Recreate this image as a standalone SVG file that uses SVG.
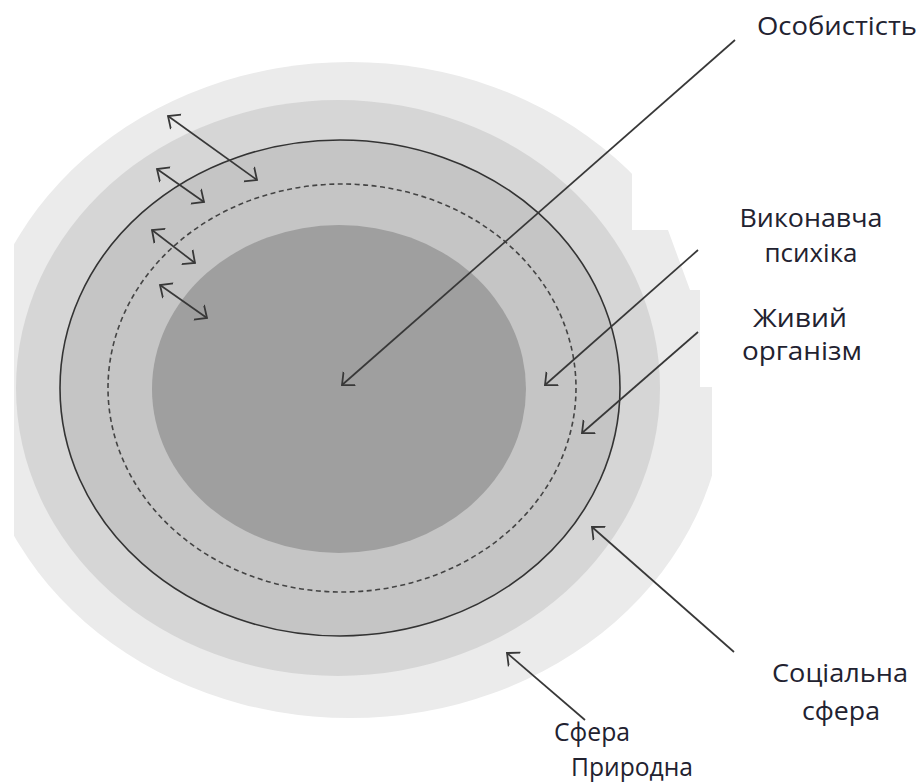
<svg xmlns="http://www.w3.org/2000/svg" width="924" height="783" viewBox="0 0 924 783">
  <defs>
    <style>
      .lbl { font-family: "Open Sans", "Noto Sans", "Liberation Sans", sans-serif; font-size: 25px; fill: #222230; text-anchor: middle; }
      .conn { fill: none; stroke: #383838; stroke-width: 1.7; }
      .twoway { marker-start: url(#head); marker-end: url(#head); }
      .oneway { marker-end: url(#head); }
    </style>
    <marker id="head" viewBox="0 0 12 20" refX="10" refY="10" markerWidth="12" markerHeight="20" markerUnits="userSpaceOnUse" orient="auto-start-reverse">
      <path d="M0,1 L10,10 L0,19" fill="none" stroke="#383838" stroke-width="1.8"/>
    </marker>
    <!-- the outer band is trimmed on the left and stepped on the upper right -->
    <clipPath id="outerClip">
      <polygon points="14,0 632,0 632,230 668,230 690,290 700,290 700,387 712,387 712,783 14,783"/>
    </clipPath>
  </defs>

  <rect width="924" height="783" fill="#ffffff"/>

  <g id="nature-sphere">
    <ellipse cx="350" cy="390" rx="375" ry="328" fill="#ebebeb" clip-path="url(#outerClip)"/>
  </g>
  <g id="social-sphere">
    <ellipse cx="338" cy="388" rx="322" ry="288" fill="#d6d6d6"/>
  </g>
  <g id="living-organism">
    <ellipse cx="340" cy="388" rx="280" ry="248" fill="#c5c5c5" stroke="#333333" stroke-width="1.6"/>
  </g>
  <g id="executive-psyche">
    <ellipse cx="342" cy="388" rx="234" ry="204" fill="none" stroke="#444444" stroke-width="1.6" stroke-dasharray="5 3.5"/>
  </g>
  <g id="personality">
    <ellipse cx="339" cy="389" rx="187" ry="164" fill="#9f9f9f"/>
  </g>

  <g id="connectors">
    <line class="conn twoway" x1="168" y1="116" x2="257" y2="180"/>
    <line class="conn twoway" x1="157" y1="169" x2="204" y2="202"/>
    <line class="conn twoway" x1="152" y1="230" x2="195" y2="263"/>
    <line class="conn twoway" x1="160" y1="285" x2="207" y2="318"/>

    <line class="conn oneway" x1="735" y1="40" x2="342" y2="385"/>
    <line class="conn oneway" x1="698" y1="250" x2="545" y2="385"/>
    <line class="conn oneway" x1="698" y1="332" x2="582" y2="433"/>
    <line class="conn oneway" x1="734" y1="652" x2="592" y2="527"/>
    <line class="conn oneway" x1="585" y1="720" x2="507" y2="653"/>
  </g>

  <g id="labels">
    <text class="lbl" x="837" y="35" textLength="160" lengthAdjust="spacingAndGlyphs">Особистість</text>
    <text class="lbl" x="811" y="227" textLength="143" lengthAdjust="spacingAndGlyphs">Виконавча</text>
    <text class="lbl" x="811" y="262" textLength="93" lengthAdjust="spacingAndGlyphs">психіка</text>
    <text class="lbl" x="800" y="327" textLength="94" lengthAdjust="spacingAndGlyphs">Живий</text>
    <text class="lbl" x="802" y="360" textLength="120" lengthAdjust="spacingAndGlyphs">організм</text>
    <text class="lbl" x="840" y="682" textLength="136" lengthAdjust="spacingAndGlyphs">Соціальна</text>
    <text class="lbl" x="841" y="720" textLength="78" lengthAdjust="spacingAndGlyphs">сфера</text>
    <text class="lbl" x="592" y="741" textLength="76" lengthAdjust="spacingAndGlyphs">Сфера</text>
    <text class="lbl" x="632" y="776" textLength="122" lengthAdjust="spacingAndGlyphs">Природна</text>
  </g>
</svg>
